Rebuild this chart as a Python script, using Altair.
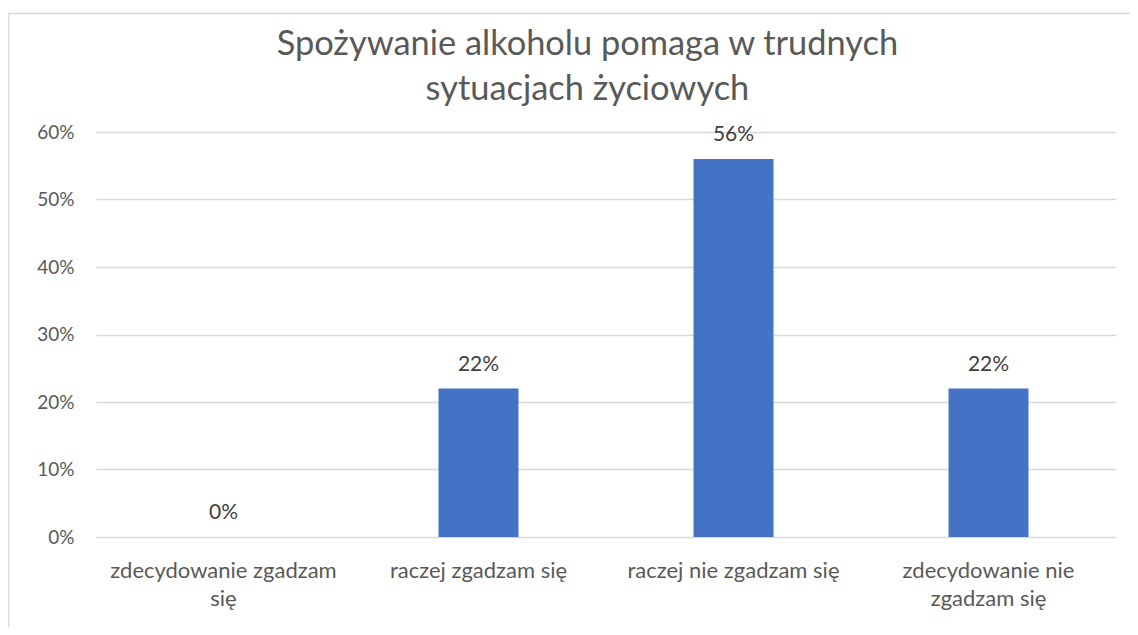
import altair as alt
import pandas as pd

categories = [
    "zdecydowanie zgadzam się",
    "raczej zgadzam się",
    "raczej nie zgadzam się",
    "zdecydowanie nie zgadzam się",
]
wrapped = [
    ["zdecydowanie zgadzam", "się"],
    ["raczej zgadzam się"],
    ["raczej nie zgadzam się"],
    ["zdecydowanie nie", "zgadzam się"],
]
values = [0.0, 0.22, 0.56, 0.22]
y_ticks = [0, 0.1, 0.2, 0.3, 0.4, 0.5, 0.6]
title_lines = ["Spożywanie alkoholu pomaga w trudnych", "sytuacjach życiowych"]

df = pd.DataFrame({"cat": categories, "val": values})

FONT = "Lato"
TEXT = "#595959"

expr = "datum.label"
for c, w in zip(categories, wrapped):
    arr = "[" + ",".join("'" + s + "'" for s in w) + "]"
    expr = f"datum.label == '{c}' ? {arr} : ({expr})"

x = alt.X(
    "cat:N",
    sort=categories,
    title=None,
    scale=alt.Scale(paddingInner=0.6863, paddingOuter=0.3431),
    axis=alt.Axis(
        labelAngle=0,
        labelExpr=expr,
        labelFont=FONT,
        labelFontSize=22,
        labelColor=TEXT,
        labelBaseline="alphabetic",
        labelLineHeight=28,
        labelPadding=40,
        ticks=False,
        tickSize=0,
        domain=False,
        grid=False,
        labelLimit=400,
    ),
)
y = alt.Y(
    "val:Q",
    title=None,
    scale=alt.Scale(domain=[0, 0.6], nice=False),
    axis=alt.Axis(
        values=y_ticks,
        format=".0%",
        labelFont=FONT,
        labelFontSize=19,
        labelColor=TEXT,
        labelPadding=22,
        ticks=False,
        tickSize=0,
        domain=False,
        gridColor="#D9D9D9",
        gridWidth=1.3,
    ),
)

base = alt.Chart(df)
bars = base.mark_bar(color="#4472C4").encode(x=x, y=y)
labels = base.mark_text(
    dy=-18, baseline="alphabetic", font=FONT, fontSize=21, color="#404040"
).encode(x=x, y=y, text=alt.Text("val:Q", format=".0%"))

title_layers = []
for line, ypos in zip(title_lines, [-77, -32]):
    title_layers.append(
        alt.Chart(alt.Data(values=[{"t": line}])).mark_text(
            font=FONT, fontSize=34.4, color=TEXT, baseline="alphabetic", align="center"
        ).encode(text="t:N", x=alt.value(491.4), y=alt.value(ypos))
    )

border = alt.Chart(alt.Data(values=[{"a": 1}])).mark_rect(
    filled=False, stroke="#D9D9D9", strokeWidth=1.5
).encode(
    x=alt.value(-87.5), y=alt.value(-118.5), x2=alt.value(1200), y2=alt.value(700)
)

chart = (
    alt.layer(border, bars, labels, *title_layers)
    .properties(
        width=1020,
        height=405,
        view=alt.ViewBackground(strokeWidth=0),
        autosize=alt.AutoSizeParams(type="none"),
        padding={"left": 88, "top": 124, "right": 14, "bottom": 90},
    )
    .configure_view(strokeWidth=0)
    .configure(background="white")
)

chart.save("out.html", embed_options={"renderer": "svg", "actions": False})
